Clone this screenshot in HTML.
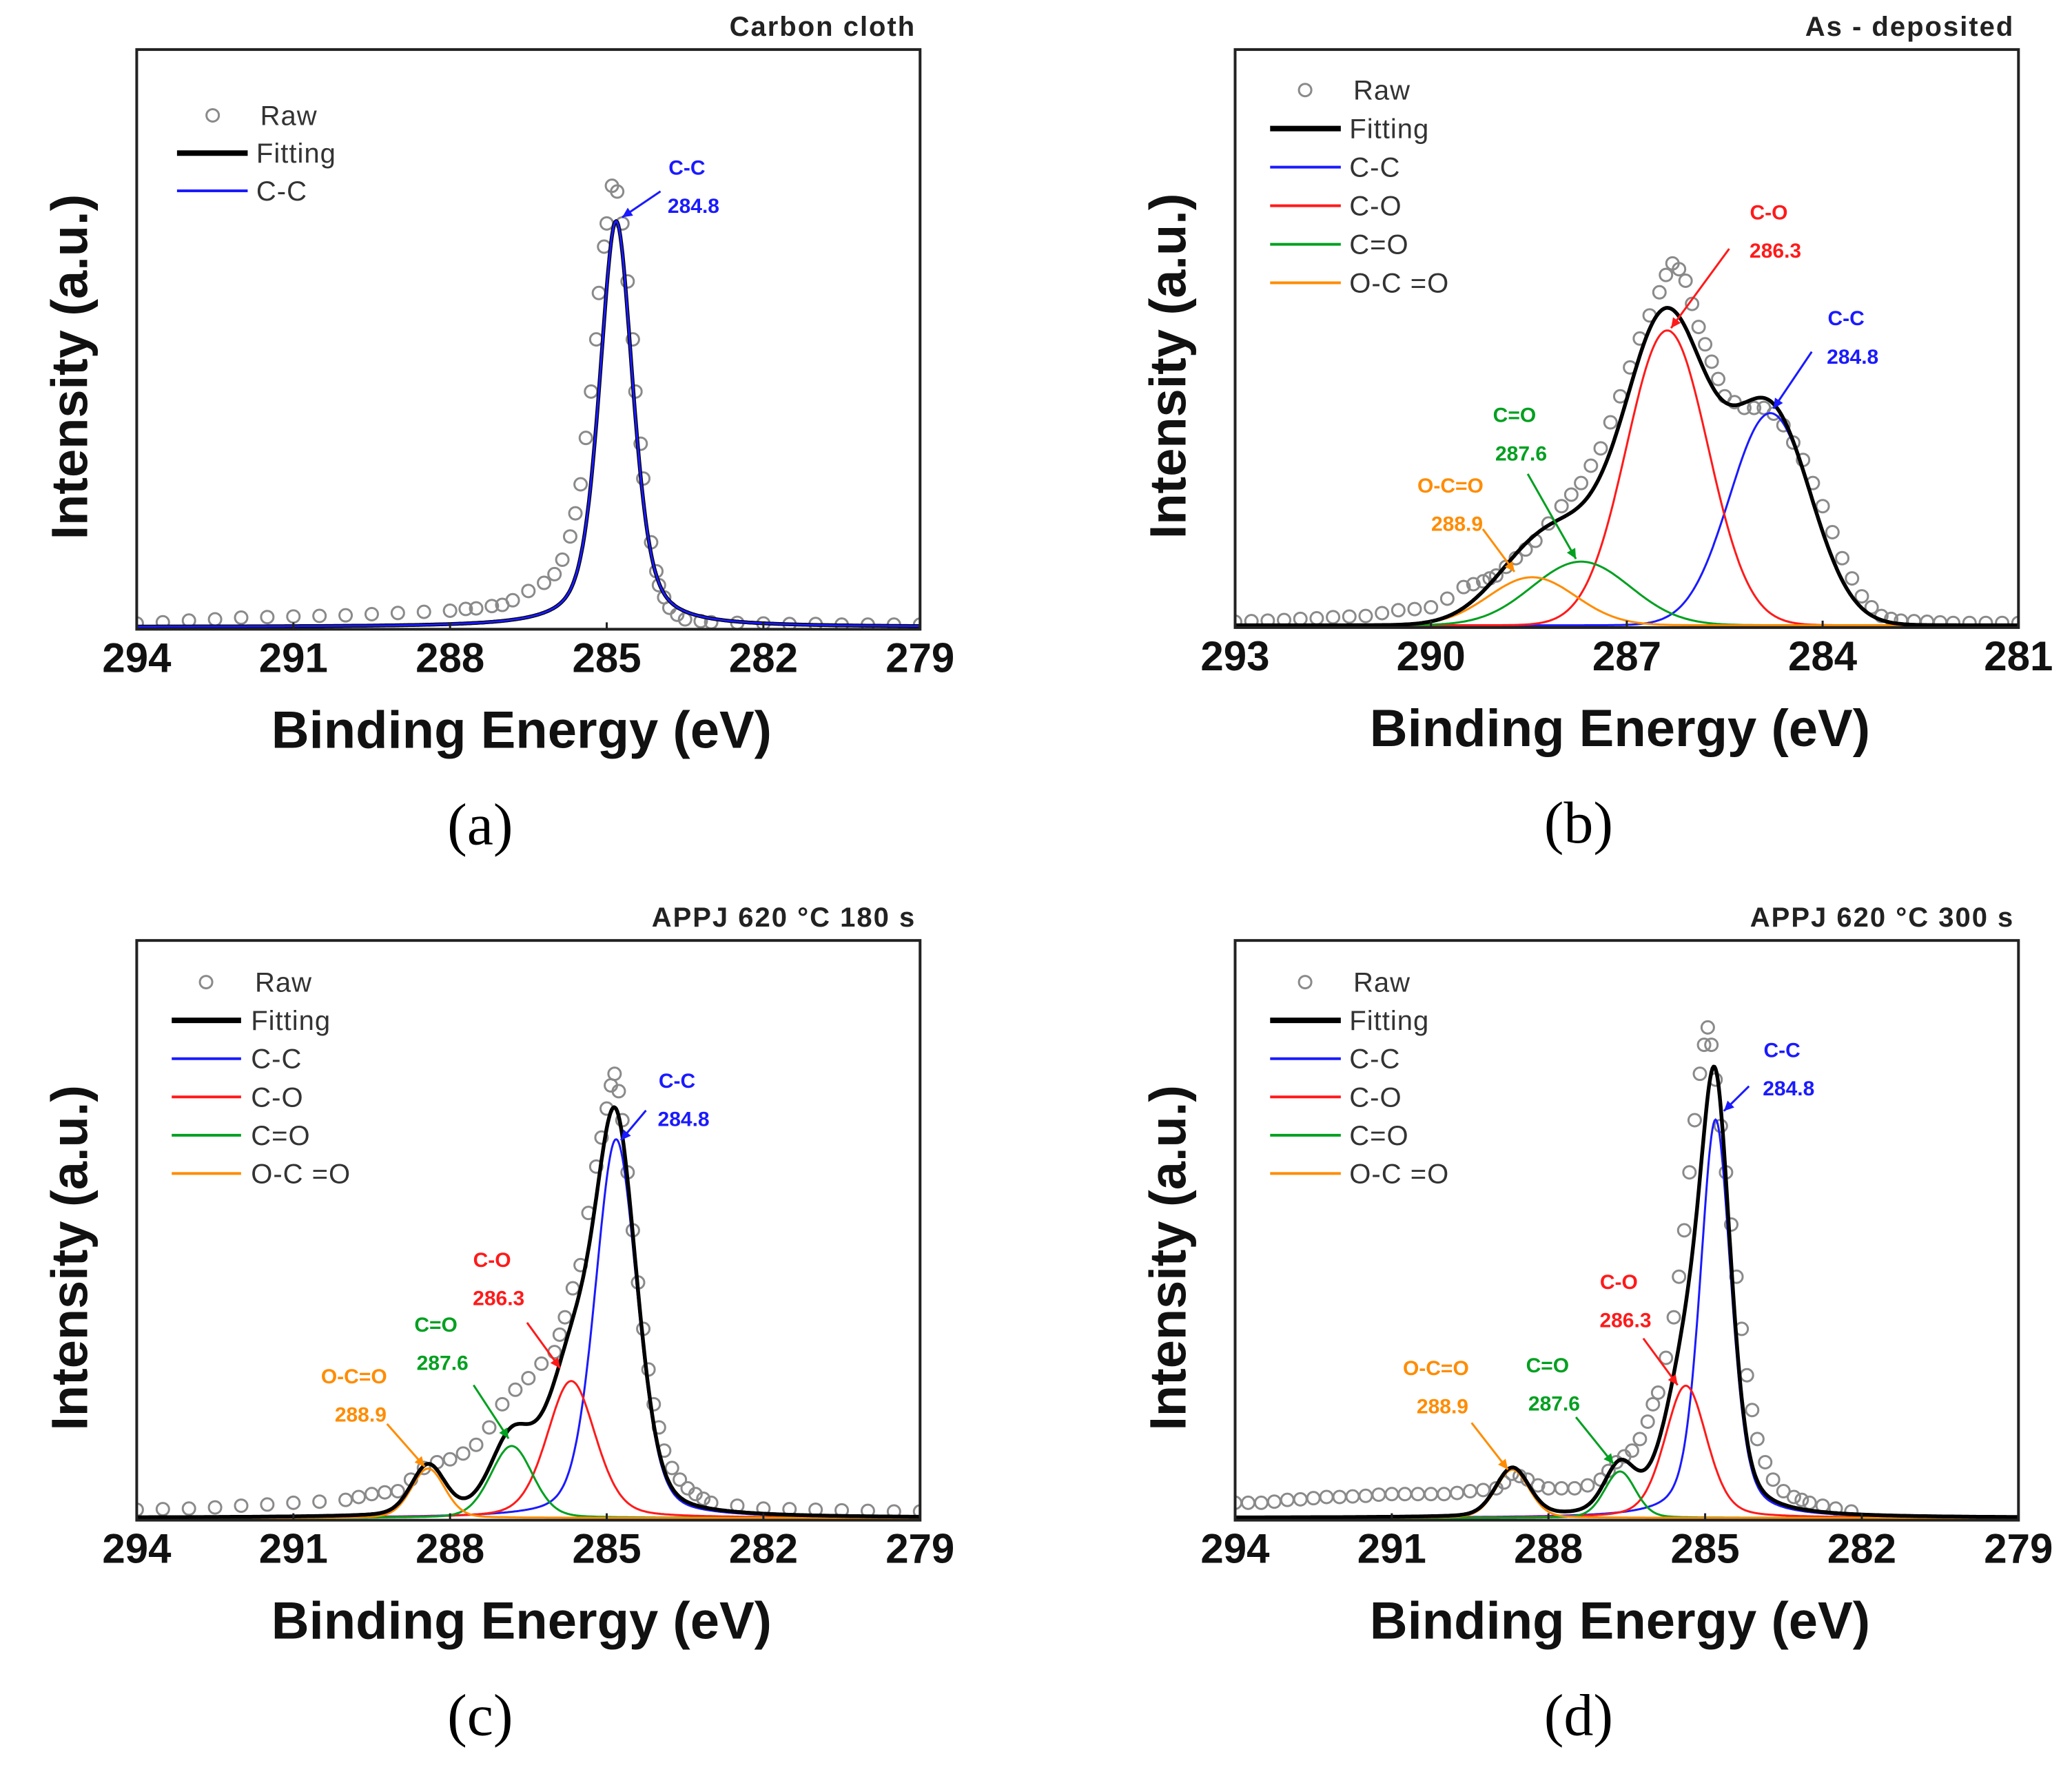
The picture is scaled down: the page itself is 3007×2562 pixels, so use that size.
<!DOCTYPE html>
<html><head><meta charset="utf-8"><style>
html,body{margin:0;padding:0;background:#fff;}
svg{display:block;}
text{font-family:"Liberation Sans",Arial,sans-serif;}
text.serif{font-family:"Liberation Serif","Times New Roman",serif;}
</style></head><body>
<svg id="fig" xmlns="http://www.w3.org/2000/svg" width="3007" height="2562" viewBox="0 0 3007 2562">
<rect width="3007" height="2562" fill="#fff"/>
</svg>
<script>
// ---------- DATA ----------
// Panel (a) Carbon cloth
const aTicks = [294,291,288,285,282,279];
const aPeakNames = ["C-C"];
const aCenters = [284.82];
const aHeights = [0.70];
const aFwhm = [0.76];
const aEta = [0.5];
const aRawE = [294,293.5,293,292.5,292,291.5,291,290.5,290,289.5,289,288.5,288,287.7,287.5,287.2,287,286.8,286.5,286.2,286,285.85,285.7,285.6,285.5,285.4,285.3,285.2,285.15,285.05,285,284.9,284.8,284.7,284.6,284.5,284.45,284.35,284.3,284.15,284.05,284,283.9,283.8,283.65,283.5,283.2,283,282.5,282,281.5,281,280.5,280,279.5,279];
const aRawI = [0.01,0.012,0.015,0.017,0.02,0.021,0.022,0.023,0.024,0.026,0.028,0.03,0.032,0.035,0.036,0.04,0.042,0.05,0.066,0.08,0.095,0.12,0.16,0.2,0.25,0.33,0.41,0.5,0.58,0.66,0.70,0.765,0.755,0.70,0.60,0.5,0.41,0.32,0.26,0.15,0.1,0.076,0.055,0.037,0.025,0.017,0.014,0.012,0.011,0.01,0.009,0.009,0.008,0.008,0.008,0.008];

// Panel (b) As-deposited
const bTicks = [293,290,287,284,281];
const bPeakNames = ["C-C","C-O","C=O","O-C=O"];
const bCenters = [284.8,286.38,287.7,288.45];
const bHeights = [0.367,0.51,0.11,0.083];
const bFwhm = [1.47,1.47,1.77,1.57];
const bEta = [0,0,0,0];
const bRawE = [293,292.75,292.5,292.25,292,291.75,291.5,291.25,291,290.75,290.5,290.25,290,289.75,289.5,289.35,289.2,289.1,289,288.85,288.7,288.55,288.4,288.2,288,287.85,287.7,287.55,287.4,287.25,287.1,286.95,286.8,286.65,286.5,286.4,286.3,286.2,286.1,286,285.9,285.8,285.7,285.6,285.5,285.35,285.2,285.05,284.9,284.75,284.6,284.45,284.3,284.15,284,283.85,283.7,283.55,283.4,283.25,283.1,282.95,282.8,282.6,282.4,282.2,282,281.75,281.5,281.25,281];
const bRawI = [0.01,0.011,0.012,0.013,0.015,0.016,0.018,0.019,0.02,0.025,0.03,0.032,0.035,0.05,0.07,0.075,0.08,0.085,0.09,0.105,0.12,0.135,0.15,0.18,0.21,0.23,0.25,0.28,0.31,0.355,0.40,0.45,0.50,0.54,0.58,0.61,0.63,0.62,0.60,0.56,0.52,0.49,0.46,0.43,0.40,0.39,0.38,0.38,0.38,0.37,0.35,0.32,0.29,0.25,0.21,0.165,0.12,0.085,0.054,0.035,0.02,0.015,0.012,0.011,0.01,0.009,0.008,0.008,0.008,0.008,0.008];

// Panel (c) APPJ 620 C 180 s
const cTicks = [294,291,288,285,282,279];
const cPeakNames = ["C-C","C-O","C=O","O-C=O"];
const cCenters = [284.82,285.68,286.82,288.42];
const cHeights = [0.653,0.236,0.124,0.085];
const cFwhm = [0.95,1.1,0.95,0.76];
const cEta = [0.3,0.3,0.2,0.2];
const cRawE = [294,293.5,293,292.5,292,291.5,291,290.5,290,289.75,289.5,289.25,289,288.75,288.5,288.25,288,287.75,287.5,287.25,287,286.75,286.5,286.25,286,285.9,285.8,285.65,285.5,285.35,285.2,285.1,285,284.92,284.85,284.77,284.7,284.6,284.5,284.4,284.3,284.2,284.1,284,283.9,283.75,283.6,283.45,283.3,283.15,283,282.5,282,281.5,281,280.5,280,279.5,279];
const cRawI = [0.018,0.019,0.02,0.022,0.025,0.027,0.03,0.032,0.035,0.04,0.045,0.048,0.05,0.07,0.09,0.1,0.105,0.115,0.13,0.16,0.2,0.225,0.245,0.27,0.29,0.32,0.35,0.4,0.44,0.53,0.61,0.66,0.71,0.75,0.77,0.74,0.69,0.6,0.5,0.41,0.33,0.26,0.2,0.16,0.12,0.09,0.07,0.055,0.045,0.037,0.03,0.025,0.02,0.019,0.018,0.017,0.016,0.015,0.015];

// Panel (d) APPJ 620 C 300 s
const dTicks = [294,291,288,285,282,279];
const dPeakNames = ["C-C","C-O","C=O","O-C=O"];
const dCenters = [284.8,285.37,286.63,288.69];
const dHeights = [0.687,0.228,0.08,0.083];
const dFwhm = [0.7,0.95,0.7,0.76];
const dEta = [0.4,0.3,0.2,0.2];
const dRawE = [294,293.75,293.5,293.25,293,292.75,292.5,292.25,292,291.75,291.5,291.25,291,290.75,290.5,290.25,290,289.75,289.5,289.25,289,288.85,288.7,288.55,288.4,288.2,288,287.75,287.5,287.25,287,286.85,286.7,286.55,286.4,286.25,286.1,286,285.9,285.75,285.6,285.5,285.4,285.3,285.2,285.1,285.02,284.95,284.88,284.8,284.7,284.6,284.5,284.4,284.3,284.2,284.1,284,283.85,283.7,283.5,283.3,283.15,283,282.75,282.5,282.2];
const dRawI = [0.03,0.03,0.03,0.032,0.035,0.036,0.038,0.04,0.04,0.041,0.042,0.044,0.045,0.045,0.045,0.045,0.045,0.047,0.05,0.052,0.055,0.065,0.08,0.076,0.07,0.06,0.055,0.055,0.055,0.06,0.07,0.085,0.1,0.11,0.12,0.14,0.17,0.2,0.22,0.28,0.35,0.42,0.5,0.6,0.69,0.77,0.82,0.85,0.82,0.76,0.68,0.6,0.51,0.42,0.33,0.25,0.19,0.14,0.1,0.07,0.05,0.04,0.035,0.03,0.025,0.02,0.015];

// ---------- DRAW ----------
const NS = "http://www.w3.org/2000/svg";
const svg = document.getElementById('fig');
const COLORS = {"C-C":"#1a1aff","C-O":"#ff1a1a","C=O":"#00a020","O-C=O":"#ff8c00"};
const KX = 1503/1568, KY = 1281/1568;

function mk(tag, attrs, parent){
  const e = document.createElementNS(NS, tag);
  for (const k in attrs) e.setAttribute(k, attrs[k]);
  parent.appendChild(e);
  return e;
}
function pv(x,c,h,w,eta){
  const d=(x-c)/w; const G=Math.exp(-4*Math.LN2*d*d); const L=1/(1+4*d*d);
  return h*(eta*L+(1-eta)*G);
}

function panel(cfg){
  const X = x => cfg.ox + x*KX;
  const Y = y => cfg.oy + y*KY;
  const g = mk('g',{},svg);
  
  
  const L=X(cfg.box[0]), T=Y(cfg.box[1]), R=X(cfg.box[2]), B=Y(cfg.box[3]);
  const xS = e => L + (cfg.eMax - e)/(cfg.eMax - cfg.eMin)*(R-L);
  const yS = v => B - v*(B-T);
  const cp = mk('clipPath',{id:'clip'+cfg.letter},g);
  mk('rect',{x:L,y:T,width:R-L,height:B-T},cp);
  const plot = mk('g',{'clip-path':`url(#clip${cfg.letter})`},g);
  
  
  for (let i=0;i<cfg.rawE.length;i++){
    const c = mk('circle',{cx:xS(cfg.rawE[i]),cy:yS(cfg.rawI[i]),r:9,fill:'none',stroke:'#8a8a8a','stroke-width':3},plot);
    
    
  }
  const steps=[]; for(let e=cfg.eMin;e<=cfg.eMax+1e-9;e+=0.02) steps.push(e);
  const comp = (k)=>{
    const pts = steps.map(e=>xS(e).toFixed(1)+','+yS(0.004+pv(e,cfg.centers[k],cfg.heights[k],cfg.fwhm[k],cfg.eta[k])).toFixed(1)).join(' ');
    const p = mk('polyline',{points:pts,fill:'none',stroke:COLORS[cfg.names[k]],'stroke-width':3},plot);
    
    
  };
  const fit = ()=>{
    const pts = steps.map(e=>{let s=0.004;for(let k=0;k<cfg.centers.length;k++)s+=pv(e,cfg.centers[k],cfg.heights[k],cfg.fwhm[k],cfg.eta[k]);return xS(e).toFixed(1)+','+yS(s).toFixed(1);}).join(' ');
    const p = mk('polyline',{points:pts,fill:'none',stroke:'#000','stroke-width':5.5,'stroke-linejoin':'round'},plot);
    
    
  };
  if (cfg.fitFirst){ fit(); cfg.centers.forEach((_,k)=>comp(k)); }
  else { cfg.centers.forEach((_,k)=>comp(k)); fit(); }
  const fr = mk('rect',{x:L,y:T,width:R-L,height:B-T,fill:'none',stroke:'#222','stroke-width':4},g);
  
  
  cfg.ticks.forEach(t=>{
    mk('line',{x1:xS(t),x2:xS(t),y1:B,y2:B-10,stroke:'#222','stroke-width':3},g);
    const tx = mk('text',{x:xS(t),y:B+62,'text-anchor':'middle','font-size':60,'font-weight':'bold',fill:'#111'},g);
    tx.textContent = t;
    
    
  });
  const cx=(L+R)/2;
  const xl = mk('text',{x:cx-10,y:B+172,'text-anchor':'middle','font-size':76,'font-weight':'bold',fill:'#111'},g);
  xl.textContent='Binding Energy (eV)';
  
  
  const yl = mk('text',{x:0,y:0,'text-anchor':'middle','font-size':74,'font-weight':'bold',fill:'#111',transform:`translate(${L-72},${(T+B)/2+40}) rotate(-90)`},g);
  yl.textContent='Intensity (a.u.)';
  
  
  const ti = mk('text',{x:R-6,y:T-20,'text-anchor':'end','font-size':40,'font-weight':'bold',fill:'#222','letter-spacing':2},g);
  ti.textContent=cfg.title;
  
  
  const pl = mk('text',{x:cx-70,y:B+312,'text-anchor':'middle','font-size':86,fill:'#000','class':'serif'},g);
  pl.textContent='('+cfg.letter+')';
  
  
  const lg = mk('g',{},g);
  
  
  const entries = ['Raw','Fitting'].concat(cfg.names);
  entries.forEach((n,i)=>{
    const y = Y(cfg.leg.y0 + i*cfg.leg.dy);
    if (n==='Raw') mk('circle',{cx:X(cfg.leg.cx),cy:y,r:9,fill:'none',stroke:'#8a8a8a','stroke-width':3},lg);
    else mk('line',{x1:X(cfg.leg.x1),x2:X(cfg.leg.x2),y1:y,y2:y,stroke:n==='Fitting'?'#000':COLORS[n],'stroke-width':n==='Fitting'?8:4},lg);
    const t = mk('text',{x:X(n==='Raw'?cfg.leg.tx+6:cfg.leg.tx),y:y+14,'font-size':40,fill:'#333','letter-spacing':1},lg);
    t.textContent = n==='O-C=O' ? 'O-C =O' : n;
    
    
  });
  cfg.ann.forEach(a=>{
    const col = COLORS[a.n];
    const ag = mk('g',{},g);
    
    
    const t1 = mk('text',{x:X(a.x),y:Y(a.y),'text-anchor':'middle','font-size':30,'font-weight':'bold',fill:col},ag);
    t1.textContent=a.n;
    const t2 = mk('text',{x:X(a.x+10),y:Y(a.y+68),'text-anchor':'middle','font-size':30,'font-weight':'bold',fill:col},ag);
    t2.textContent=a.v;
    const x1=X(a.l[0]),y1=Y(a.l[1]),ex=X(a.l[2]),ey=Y(a.l[3]);
    mk('line',{x1:x1,y1:y1,x2:ex,y2:ey,stroke:col,'stroke-width':3},ag);
    const ang=Math.atan2(ey-y1,ex-x1), s=16;
    const p1=[ex-s*Math.cos(ang-0.45),ey-s*Math.sin(ang-0.45)], p2=[ex-s*Math.cos(ang+0.45),ey-s*Math.sin(ang+0.45)];
    mk('polygon',{points:`${ex},${ey} ${p1[0]},${p1[1]} ${p2[0]},${p2[1]}`,fill:col},ag);
  });
}

panel({letter:'a',ox:0,oy:0,box:[207,88,1393,1118],eMin:279,eMax:294,ticks:aTicks,names:aPeakNames,centers:aCenters,heights:aHeights,fwhm:aFwhm,eta:aEta,rawE:aRawE,rawI:aRawI,fitFirst:true,title:'Carbon cloth',
  leg:{y0:205,dy:67,cx:322,x1:268,x2:375,tx:388},
  ann:[{n:'C-C',v:'284.8',x:1040,y:310,l:[1000,340,942,386]}]});
panel({letter:'b',ox:1503,oy:0,box:[302,88,1488,1115],eMin:281,eMax:293,ticks:bTicks,names:bPeakNames,centers:bCenters,heights:bHeights,fwhm:bFwhm,eta:bEta,rawE:bRawE,rawI:bRawI,fitFirst:false,title:'As - deposited',
  leg:{y0:160,dy:68.5,cx:408,x1:355,x2:462,tx:475},
  ann:[{n:'C-O',v:'286.3',x:1110,y:390,l:[1050,442,962,583]},
       {n:'C-C',v:'284.8',x:1227,y:578,l:[1175,625,1117,726]},
       {n:'C=O',v:'287.6',x:725,y:750,l:[745,842,818,993]},
       {n:'O-C=O',v:'288.9',x:628,y:875,l:[677,940,725,1016]}]});
panel({letter:'c',ox:0,oy:1281,box:[207,103,1393,1133],eMin:279,eMax:294,ticks:cTicks,names:cPeakNames,centers:cCenters,heights:cHeights,fwhm:cFwhm,eta:cEta,rawE:cRawE,rawI:cRawI,fitFirst:false,title:'APPJ 620 °C 180 s',
  leg:{y0:177,dy:68,cx:312,x1:260,x2:365,tx:380},
  ann:[{n:'C-C',v:'284.8',x:1025,y:365,l:[978,405,940,458]},
       {n:'C-O',v:'286.3',x:745,y:683,l:[798,782,848,863]},
       {n:'C=O',v:'287.6',x:660,y:798,l:[717,893,770,988]},
       {n:'O-C=O',v:'288.9',x:536,y:890,l:[586,962,643,1038]}]});
panel({letter:'d',ox:1503,oy:1281,box:[302,103,1488,1133],eMin:279,eMax:294,ticks:dTicks,names:dPeakNames,centers:dCenters,heights:dHeights,fwhm:dFwhm,eta:dEta,rawE:dRawE,rawI:dRawI,fitFirst:false,title:'APPJ 620 °C 300 s',
  leg:{y0:177,dy:68,cx:408,x1:355,x2:462,tx:475},
  ann:[{n:'C-C',v:'284.8',x:1130,y:310,l:[1080,362,1042,406]},
       {n:'C-O',v:'286.3',x:883,y:722,l:[920,810,972,893]},
       {n:'C=O',v:'287.6',x:775,y:870,l:[818,950,875,1033]},
       {n:'O-C=O',v:'288.9',x:606,y:875,l:[660,960,715,1043]}]});
</script>
</body></html>
